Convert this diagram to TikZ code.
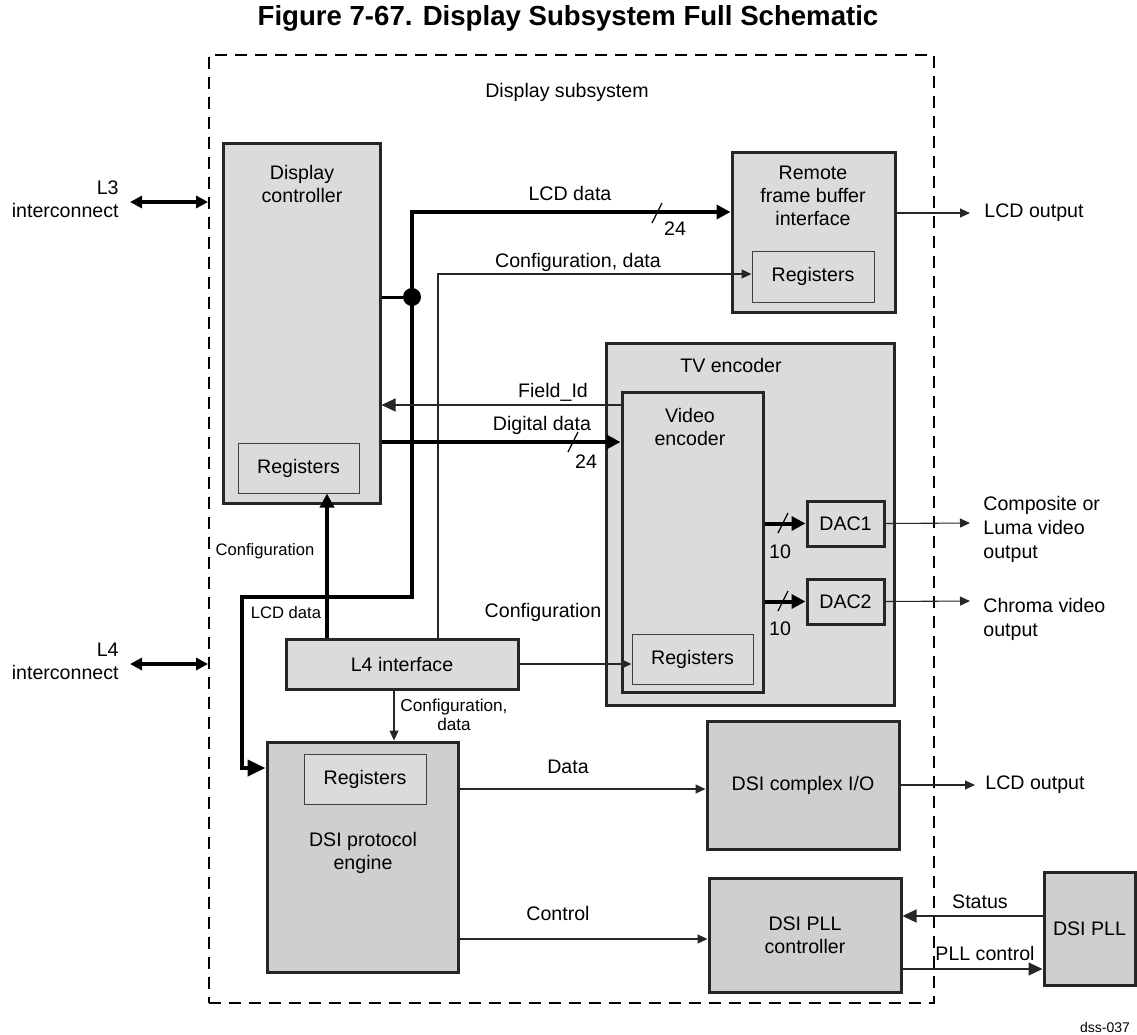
\documentclass[tikz,border=0pt]{standalone}
\usepackage{fontspec}
\setmainfont{Liberation Sans}
\usetikzlibrary{arrows.meta, fit, positioning}
\tikzset{
  blok/.style    = {rectangle, draw=black!85, line width=1.5pt, fill=black!14, inner sep=0pt},
  dsiblok/.style = {blok, fill=black!19},
  regs/.style    = {rectangle, draw=black!75, line width=0.5pt, fill=black!14, inner sep=0pt},
  txt/.style     = {font=\fontsize{9.8}{11.5}\selectfont, align=center, inner sep=0pt},
  outtxt/.style  = {txt, anchor=west, align=left, font=\fontsize{9.8}{12}\selectfont},
  fijn/.style    = {font=\fontsize{8.3}{10}\selectfont, align=center, inner sep=0pt},
  grens/.style   = {draw, line width=0.9pt, dash pattern=on 6pt off 4pt, inner sep=0pt},
  wire/.style    = {line width=0.55pt, draw=black!85, -{Triangle[length=5pt,width=4.5pt]}},
  wirebig/.style = {line width=0.55pt, draw=black!85, -{Triangle[length=7pt,width=6.5pt]}},
  bus/.style     = {line width=2pt, -{Triangle[length=7pt,width=7pt]}},
  iobus/.style   = {line width=1.6pt, {Triangle[length=6pt,width=6pt]}-{Triangle[length=6pt,width=6pt]}},
  tick/.style    = {line width=0.6pt},
  knot/.style    = {circle, fill, inner sep=0pt, minimum size=9pt}
}

\begin{document}
\begin{tikzpicture}[x=0.5pt, y=-0.5pt]
\useasboundingbox (0,0) rectangle (1137,1035);

\node[font=\bfseries\fontsize{13.8}{16}\selectfont] (titel) at (568,18) {Figure 7-67. Display Subsystem Full Schematic};

% subsystem
\node[grens, fit={(209,55) (934,1003)}] (dss) {};
\node[txt] (dsslbl) at (567,92) {Display subsystem};

% display controller
\node[blok, fit={(223,143) (380,503)}] (dc) {};
\node[txt] (dclbl) at (302,184) {Display\\controller};
\node[regs, fit={(238,443) (359,493)}] (dcreg) {};
\node[txt] (dcregt) at (dcreg.center) {Registers};

% remote frame buffer
\node[blok, fit={(732,152) (895,312)}] (rfb) {};
\node[txt] (rfblbl) at (813,196) {Remote\\frame buffer\\interface};
\node[regs, fit={(752,251) (874,302)}] (rfbreg) {};
\node[txt] (rfbregt) at (rfbreg.center) {Registers};

% tv encoder
\node[blok, fit={(606,343) (894,705)}] (tv) {};
\node[txt] (tvlbl) at (731,365) {TV encoder};
\node[blok, fit={(622,392) (763,692)}] (venc) {};
\node[txt] (venclbl) at (690,427) {Video\\encoder};
\node[regs, fit={(632,634) (753,684)}] (vreg) {};
\node[txt] (vregt) at (vreg.center) {Registers};
\node[blok, fit={(807,501) (884,546)}] (dac1) {};
\node[txt] (dac1t) at (dac1.center) {DAC1};
\node[blok, fit={(807,579) (884,624)}] (dac2) {};
\node[txt] (dac2t) at (dac2.center) {DAC2};

% L4 interface
\node[blok, fit={(286,639) (518,689)}] (l4) {};
\node[txt] (l4t) at (l4.center) {L4 interface};

% DSI
\node[dsiblok, fit={(267,742) (458,972)}] (dsipe) {};
\node[regs, fit={(304,754) (426,804)}] (dsireg) {};
\node[txt] (dsiregt) at (dsireg.center) {Registers};
\node[txt] (dsipelbl) at (363,853) {DSI protocol\\engine};
\node[dsiblok, fit={(707,721) (899,849)}] (cio) {};
\node[txt] (ciot) at (cio.center) {DSI complex I/O};
\node[dsiblok, fit={(709,878) (901,992)}] (pllc) {};
\node[txt] (pllct) at (pllc.center) {DSI PLL\\controller};
\node[dsiblok, fit={(1044,872) (1135,985)}] (pll) {};
\node[txt] (pllt) at (pll.center) {DSI PLL};

% interconnects
\coordinate (l3end) at (130,202);
\draw[iobus] (l3end) -- (dss.west |- l3end);
\node[txt, anchor=east, align=right] (l3lbl) at (119,199) {L3\\interconnect};
\coordinate (l4end) at (130,664);
\draw[iobus] (l4end) -- (dss.west |- l4end);
\node[txt, anchor=east, align=right] (l4lbl) at (119,661) {L4\\interconnect};

% LCD data bus
\coordinate (lcdtop) at (412,212);
\draw[bus, {Triangle[length=7pt,width=7pt]}-{Triangle[length=9pt,width=8pt]}, line join=miter]
  (rfb.west |- lcdtop) -- (lcdtop) -- (412,597) -- (242,597) -- (242,768) -- (dsipe.west |- 0,768);
\node[txt] (lcdlbl) at (570,193) {LCD data};
\draw[tick] (652,223) -- (662,203);
\node[txt] (lcd24) at (675,229) {24};
\node[knot] (tap) at (412,297) {};
\draw[line width=1.5pt] (dc.east |- tap) -- (tap);
\node[fijn] (lcdlbl2) at (286,613) {LCD data};

% configuration paths
\draw[wire] (l4.north -| 438,0) -- (438,274) -- (rfbreg.west |- 0,274);
\node[txt] (cfglbl1) at (578,262) {Configuration, data};
\draw[bus] (l4.north -| 327,0) -- (dcreg.south -| 327,0);
\node[fijn] (cfglbl2) at (265,551) {Configuration};
\draw[wire] (l4.east) -- (vreg.west |- l4.east);
\node[txt] (cfglbl3) at (543,612) {Configuration};
\draw[wire] (l4.south -| 394,0) -- (dsipe.north -| 394,0);
\node[fijn, font=\fontsize{8.6}{9.5}\selectfont] (cfglbl4) at (454,715) {Configuration,\\data};

% tv encoder links
\draw[wirebig] (venc.west |- 0,405) -- (dc.east |- 0,405);
\node[txt] (fidlbl) at (553,392) {Field\_Id};
\draw[bus] (dc.east |- 0,442) -- (venc.west |- 0,442);
\node[txt] (diglbl) at (542,425) {Digital data};
\draw[tick] (568,452) -- (578,432);
\node[txt] (dig24) at (586,462) {24};
\draw[bus] (venc.east |- dac1) -- (dac1.west);
\draw[tick] (778,533) -- (788,513);
\node[txt] (dac1w) at (780,552) {10};
\draw[bus] (venc.east |- dac2) -- (dac2.west);
\draw[tick] (778,611) -- (788,591);
\node[txt] (dac2w) at (780,629) {10};

% DSI links
\draw[wire] (dsipe.east |- 0,789) -- (cio.west |- 0,789);
\node[txt] (datalbl) at (568,767) {Data};
\draw[wire] (dsipe.east |- 0,939) -- (pllc.west |- 0,939);
\node[txt] (ctrllbl) at (558,913) {Control};
\draw[wirebig] (pll.west |- 0,916) -- (pllc.east |- 0,916);
\node[txt] (statlbl) at (980,902) {Status};
\draw[wirebig] (pllc.east |- 0,969) -- (pll.west |- 0,969);
\node[txt] (pllclbl) at (985,953) {PLL control};

% outputs
\coordinate (rfbout) at (970,213);
\draw[wire] (rfb.east |- rfbout) -- (rfbout);
\node[outtxt] (rfbolbl) at (984,213) {LCD output};
\coordinate (dac1out) at (970,523);
\draw[wire] (dac1.east) -- (dac1out);
\node[outtxt] (dac1lbl) at (983,529) {Composite or\\Luma video\\output};
\coordinate (dac2out) at (970,601);
\draw[wire] (dac2.east) -- (dac2out);
\node[outtxt] (dac2lbl) at (983,619) {Chroma video\\output};
\coordinate (cioout) at (975,785);
\draw[wire] (cio.east) -- (cioout);
\node[outtxt] (ciolbl) at (985,785) {LCD output};

\node[font=\fontsize{7}{8}\selectfont, anchor=east] (tag) at (1137,1027) {dss-037};
\end{tikzpicture}
\end{document}
